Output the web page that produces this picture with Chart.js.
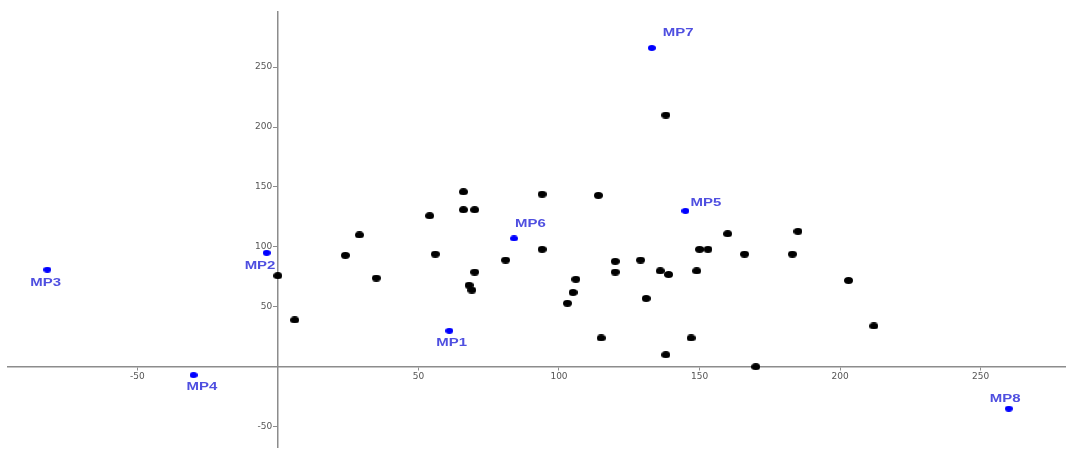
<!DOCTYPE html>
<html>
<head>
<meta charset="utf-8">
<script src="https://cdn.jsdelivr.net/npm/chart.js@4"></script>
<style>
  html, body { margin: 0; padding: 0; background: #fff; }
  #wrap { width: 1073px; height: 452px; }
</style>
</head>
<body>
<div id="wrap"><canvas id="plot"></canvas></div>
<script>
// black points (unlabelled)
const pointsX = [0, 6, 24, 29, 35, 54, 56, 66, 66, 70, 70, 68, 69, 81, 94, 94, 106, 105, 103, 114,
  115, 120, 120, 129, 131, 136, 139, 138, 147, 149, 150, 153, 160, 138, 166, 183, 185, 203, 212, 170];
const pointsY = [76, 39, 93, 110, 74, 126, 94, 146, 131, 131, 79, 68, 64, 89, 144, 98, 73, 62, 53, 143,
  24, 88, 79, 89, 57, 80, 77, 10, 24, 80, 98, 98, 111, 210, 94, 94, 113, 72, 34, 0];

// blue labelled points
const mpNames = ["MP1", "MP2", "MP3", "MP4", "MP5", "MP6", "MP7", "MP8"];
const mpX = [61, -4, -82, -30, 145, 84, 133, 260];
const mpY = [30, 95, 81, -7, 130, 107, 266, -35];

const xTicks = [-50, 50, 100, 150, 200, 250];
const yTicks = [-50, 50, 100, 150, 200, 250];

// label placement (px from the point)
const labelOffsets = [[-13, 15], [-22, 16], [-17, 16], [-7, 15], [5, -5], [1, -11], [11, -12], [-19, -7]];

function dot(w, h, color) {
  const c = document.createElement("canvas");
  c.width = w; c.height = h;
  const g = c.getContext("2d");
  g.fillStyle = color;
  g.beginPath();
  g.ellipse(w / 2, h / 2, w / 2, h / 2, 0, 0, Math.PI * 2);
  g.fill();
  return c;
}

const mpLabels = {
  id: "mpLabels",
  afterDatasetsDraw(chart) {
    const ctx = chart.ctx;
    const meta = chart.getDatasetMeta(1);
    ctx.save();
    ctx.font = "bold 11.5px 'Liberation Sans', Arial, sans-serif";
    ctx.fillStyle = "#4f4fe0";
    ctx.textBaseline = "alphabetic";
    ctx.textAlign = "left";
    meta.data.forEach((pt, i) => {
      const [dx, dy] = labelOffsets[i];
      ctx.save();
      ctx.translate(pt.x + dx, pt.y + dy);
      ctx.scale(1.3, 1);
      ctx.fillText(mpNames[i], 0, 0);
      ctx.restore();
    });
    ctx.restore();
  }
};

const axisColor = "#8c8c8c";
const tickFont = { family: "'DejaVu Sans', sans-serif", size: 9 };

// axes sit inside the plot, so drop the label overhang padding
function noPad(s) {
  s.paddingTop = 0; s.paddingBottom = 0;
  s.paddingLeft = 0; s.paddingRight = 0;
}

new Chart(document.getElementById("plot"), {
  type: "scatter",
  data: {
    datasets: [
      {
        data: pointsX.map((x, i) => ({ x: x, y: pointsY[i] })),
        pointStyle: dot(9, 7, "#000"),
        pointRadius: 4
      },
      {
        data: mpX.map((x, i) => ({ x: x, y: mpY[i] })),
        pointStyle: dot(8, 6, "#0000ff"),
        pointRadius: 4
      }
    ]
  },
  options: {
    responsive: true,
    maintainAspectRatio: false,
    animation: false,
    layout: { padding: { left: 8, right: 8, top: 12, bottom: 0 } },
    plugins: { legend: { display: false }, tooltip: { enabled: false } },
    scales: {
      x: {
        type: "linear",
        min: -96,
        max: 280,
        position: { y: 0 },
        afterBuildTicks: s => { s.ticks = xTicks.map(v => ({ value: v })); },
        afterFit: noPad,
        grid: { drawOnChartArea: false, drawTicks: true, tickLength: 3, color: axisColor },
        border: { display: true, color: axisColor, width: 1.5 },
        ticks: { font: tickFont, color: "#555", padding: 2, maxRotation: 0 }
      },
      y: {
        type: "linear",
        min: -67,
        max: 296,
        position: { x: 0 },
        afterBuildTicks: s => { s.ticks = yTicks.map(v => ({ value: v })); },
        afterFit: noPad,
        grid: { drawOnChartArea: false, drawTicks: true, tickLength: 4, color: axisColor },
        border: { display: true, color: axisColor, width: 1.5 },
        ticks: { font: tickFont, color: "#555", callback: v => v + "  " }
      }
    }
  },
  plugins: [mpLabels]
});
</script>
</body>
</html>
